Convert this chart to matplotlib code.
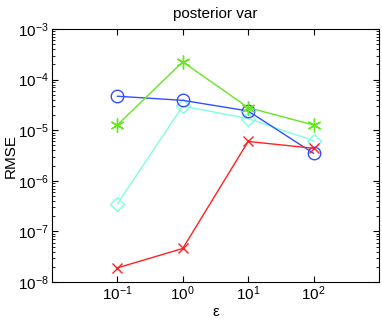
import matplotlib
matplotlib.use("Agg")
import matplotlib.pyplot as plt
from matplotlib.ticker import LogLocator, NullLocator

# epsilon values on the x axis
eps = [0.1, 1, 10, 100]

# RMSE per method
rmse_blue = [4.7e-5, 3.9e-5, 2.4e-5, 3.5e-6]
rmse_cyan = [3.5e-7, 3.0e-5, 1.7e-5, 6.2e-6]
rmse_green = [1.27e-5, 2.25e-4, 2.8e-5, 1.27e-5]
rmse_red = [1.9e-8, 4.6e-8, 6.0e-6, 4.4e-6]

# Helvetica-like look, as in the MATLAB original
plt.rcParams['font.family'] = ['Liberation Sans', 'DejaVu Sans']
plt.rcParams['mathtext.fontset'] = 'custom'
plt.rcParams['mathtext.rm'] = 'Liberation Sans'
plt.rcParams['mathtext.it'] = 'Liberation Sans:italic'
plt.rcParams['mathtext.bf'] = 'Liberation Sans:bold'


def main():
    fig = plt.figure(figsize=(3.82, 3.21), dpi=100)
    ax = fig.add_axes([0.136, 0.1215, 0.856, 0.788])

    ax.plot(eps, rmse_cyan, color='#7fffe0', marker='D', markersize=7,
            markerfacecolor='none', linewidth=1)
    ax.plot(eps, rmse_blue, color='#3050ff', marker='o', markersize=9,
            markerfacecolor='none', linewidth=1)
    # asterisk-style marker like MATLAB's '*'
    ax.plot(eps, rmse_green, color='#66e622', marker=(6, 2, 0), markersize=10,
            linewidth=1)
    ax.plot(eps, rmse_red, color='#ff2020', marker='x', markersize=7,
            linewidth=1)

    ax.set_xscale('log')
    ax.set_yscale('log')
    ax.set_xlim(1e-2, 1e3)
    ax.set_ylim(1e-8, 1e-3)
    ax.set_xticks(eps)
    ax.xaxis.set_minor_locator(NullLocator())
    ax.yaxis.set_major_locator(LogLocator(base=10, numticks=10))
    ax.yaxis.set_minor_locator(LogLocator(base=10, subs=range(2, 10), numticks=20))
    ax.tick_params(which='both', direction='in', top=True, right=True,
                   labelsize=11, pad=2)
    ax.tick_params(which='major', length=4)
    ax.tick_params(which='minor', length=2)

    ax.set_title('posterior var', fontsize=11, pad=8)
    ax.set_xlabel('ε', fontsize=11, labelpad=1)
    ax.set_ylabel('RMSE', fontsize=11)
    ax.yaxis.set_label_coords(-0.105, 0.5)

    fig.savefig('out.png', dpi=100)


if __name__ == "__main__":
    main()
